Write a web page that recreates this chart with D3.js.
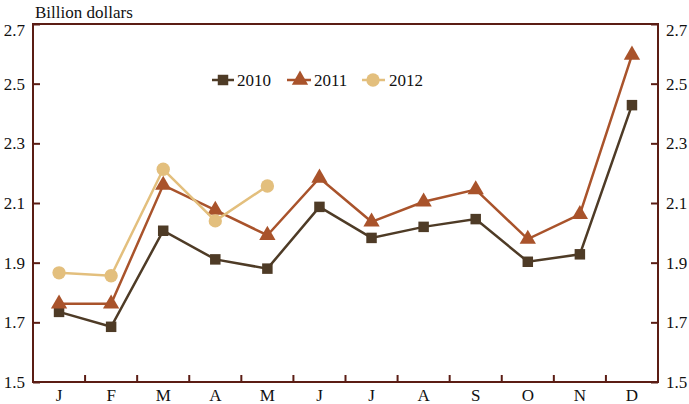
<!DOCTYPE html>
<html><head><meta charset="utf-8">
<script src="https://cdn.jsdelivr.net/npm/d3@7"></script>
</head><body style="margin:0;background:#fff"><svg id="c" width="689" height="404" font-family="Liberation Serif"></svg>
<script>
const months = ["J","F","M","A","M","J","J","A","S","O","N","D"];
const yTicks = [1.5,1.7,1.9,2.1,2.3,2.5,2.7];
const s2010 = [1.735,1.685,2.007,1.911,1.880,2.087,1.983,2.020,2.046,1.903,1.928,2.428];
const s2011 = [1.762,1.762,2.160,2.076,1.992,2.184,2.037,2.104,2.145,1.979,2.062,2.596];
const s2012 = [1.866,1.856,2.213,2.040,2.157];
const seriesNames = ["2010","2011","2012"];

const FONT = "Liberation Serif";
const svg = d3.select("#c");
const L=33, R=658, T=24, B=382;
const axisColor="#5b1d14";
const x = d3.scaleBand().domain(d3.range(12)).range([L,R]);
const y = d3.scaleLinear().domain([1.5,2.7]).range([B,T]);
const cx = i => x(i)+x.bandwidth()/2;

svg.append("rect").attr("x",L).attr("y",T).attr("width",R-L).attr("height",B-T)
  .attr("fill","none").attr("stroke",axisColor).attr("stroke-width",2);

const la = svg.append("g").attr("transform",`translate(${L},0)`)
  .call(d3.axisLeft(y).tickValues(yTicks).tickFormat(d3.format(".1f")).tickSize(-7).tickPadding(8));
const ra = svg.append("g").attr("transform",`translate(${R},0)`)
  .call(d3.axisRight(y).tickValues(yTicks).tickFormat(d3.format(".1f")).tickSize(-7).tickPadding(8));
[la,ra].forEach(g=>{
  g.attr("font-family",FONT).attr("font-size",17);
  g.select(".domain").remove();
  g.selectAll("line").attr("stroke",axisColor).attr("stroke-width",2);
  g.selectAll("text").attr("fill","#111").attr("font-family",FONT).attr("font-size",17);
  g.selectAll(".tick").filter(d=>d===2.7).select("text").attr("dy","0.65em");
});

const bg = svg.append("g");
bg.selectAll("line").data(d3.range(1,12)).join("line")
  .attr("x1",i=>x(i)).attr("x2",i=>x(i)).attr("y1",B).attr("y2",B-7)
  .attr("stroke",axisColor).attr("stroke-width",2);
bg.selectAll("text").data(months).join("text")
  .attr("x",(d,i)=>cx(i)).attr("y",401).attr("text-anchor","middle")
  .attr("font-family",FONT).attr("font-size",17).attr("fill","#111").text(d=>d);

svg.append("text").attr("x",35).attr("y",18).attr("font-family",FONT).attr("font-size",17)
  .attr("fill","#111").text("Billion dollars");

const colors = ["#4e3b26","#a9532b","#e3bf7d"];
const line = d3.line().x((d,i)=>cx(i)).y(d=>y(d));
const data = [s2010,s2011,s2012];
const syms = [d3.symbol().type(d3.symbolSquare).size(110),
              d3.symbol().type(d3.symbolTriangle).size(115),
              d3.symbol().type(d3.symbolCircle).size(140)];

[0,1,2].forEach(k=>{
  const g = svg.append("g");
  g.append("path").datum(data[k]).attr("d",line).attr("fill","none")
    .attr("stroke",colors[k]).attr("stroke-width",2.5);
  g.selectAll("path.m").data(data[k]).join("path").attr("class","m")
    .attr("transform",(d,i)=>`translate(${cx(i)},${y(d)})`)
    .attr("d",syms[k]()).attr("fill",colors[k]);
});

const leg = [{x0:212,x1:234,mx:223,tx:237},{x0:287,x1:311,mx:300,tx:314},{x0:362,x1:385,mx:373,tx:389}];
leg.forEach((l,k)=>{
  svg.append("line").attr("x1",l.x0).attr("x2",l.x1).attr("y1",80).attr("y2",80)
    .attr("stroke",colors[k]).attr("stroke-width",2.5);
  svg.append("path").attr("transform",`translate(${l.mx},80)`).attr("d",syms[k]()).attr("fill",colors[k]);
  svg.append("text").attr("x",l.tx).attr("y",86).attr("font-family",FONT).attr("font-size",17)
    .attr("fill","#111").text(seriesNames[k]);
});
</script></body></html>
